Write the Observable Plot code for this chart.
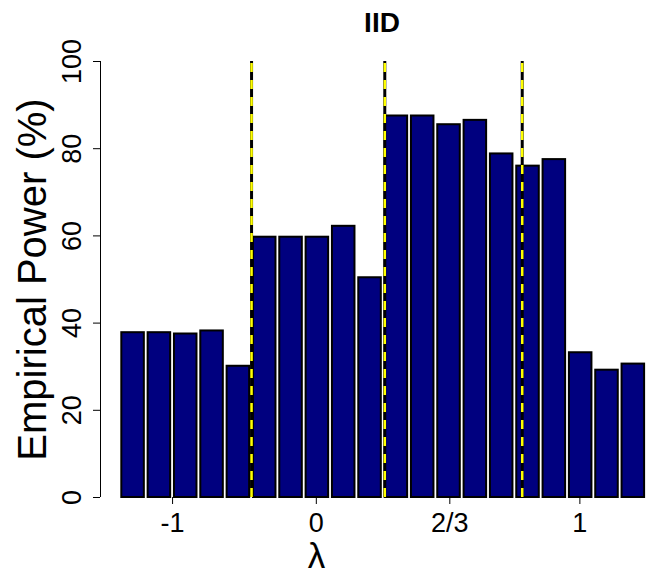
<!DOCTYPE html>
<html>
<head>
<meta charset="utf-8">
<script src="https://cdn.jsdelivr.net/npm/d3@7"></script>
<script src="https://cdn.jsdelivr.net/npm/@observablehq/plot@0.6"></script>
<style>
  body { margin: 0; background: #fff; font-family: "Liberation Sans", Arial, sans-serif; }
  #wrap { width: 649px; height: 573px; position: relative; overflow: hidden; }
  #title { position: relative; height: 40px; }
  #title span { position: absolute; left: 382px; top: 9px; transform: translateX(-50%);
    font: bold 28px "Liberation Sans", Arial, sans-serif; line-height: 1; color: #000; }
  #chart svg { overflow: visible; }
</style>
</head>
<body>
<div id="wrap">
  <div id="title"><span>IID</span></div>
  <div id="chart"></div>
</div>
<script>
// Empirical power (%) for each of the 20 test configurations, left to right
const power = [37.8, 37.8, 37.5, 38.2, 30.1,
               59.7, 59.7, 59.7, 62.2, 50.4,
               87.5, 87.5, 85.5, 86.5, 78.8,
               76.0, 77.5, 33.2, 29.2, 30.6];
// λ tick labels and their positions along the bar sequence (bar index units)
const lambdaLabels = ["-1", "0", "2/3", "1"];
const lambdaPos = [2.0, 7.46, 12.53, 17.47];
// boundaries marked by dashed reference lines (bar index units)
const cutPos = [5.0, 10.06, 15.28];
// y tick values
const yTicks = [0, 20, 40, 60, 80, 100];

const bars = power.map((v, i) => ({i, v}));
const xStart = -0.737; // left edge of the value axis
const font = '"Liberation Sans", Arial, sans-serif';

const chart = Plot.plot({
  width: 649,
  height: 533,
  marginLeft: 100,
  marginRight: 3,
  marginTop: 21,
  marginBottom: 76,
  style: {fontFamily: font, background: "transparent", overflow: "visible"},
  x: {type: "linear", domain: [xStart, 20], axis: null},
  y: {domain: [0, 100], axis: null},
  marks: [
    Plot.rectY(bars, {x1: "i", x2: d => d.i + 1, y1: 0, y2: "v",
      fill: "#00007f", stroke: "#000", strokeWidth: 2, insetLeft: 1.9, insetRight: 1.9}),
    // dashed reference lines: black base with yellow dashes on top
    Plot.ruleX(cutPos, {y1: 0, y2: 100, stroke: "#000", strokeWidth: 3}),
    Plot.ruleX(cutPos, {y1: 0, y2: 100, stroke: "#ffff00", strokeWidth: 2.5, strokeDasharray: "9,8"}),
    // y axis line, ticks and rotated labels
    Plot.ruleX([xStart], {y1: 0, y2: 100, stroke: "#000", strokeWidth: 1}),
    Plot.axisY({ticks: yTicks, tickSize: 7, tickFormat: () => "", label: null}),
    Plot.text(yTicks, {x: xStart, y: d => d, text: d => String(d), rotate: -90,
      textAnchor: "middle", lineAnchor: "bottom", dx: -20, fontSize: 27, fill: "#000"}),
    // x axis ticks and λ labels
    Plot.axisX({ticks: lambdaPos, tickSize: 7, tickPadding: 8, fontSize: 27,
      tickFormat: (d, k) => lambdaLabels[k], label: null}),
    // axis titles
    Plot.text(["Empirical Power (%)"], {frameAnchor: "left", rotate: -90, textAnchor: "middle",
      lineAnchor: "bottom", dx: -55, fontSize: 40, fill: "#000"}),
    Plot.text(["λ"], {frameAnchor: "bottom", textAnchor: "middle", lineAnchor: "bottom",
      dx: -57, dy: 70, fontSize: 35, fill: "#000"})
  ]
});
document.getElementById("chart").appendChild(chart);
</script>
</body>
</html>
